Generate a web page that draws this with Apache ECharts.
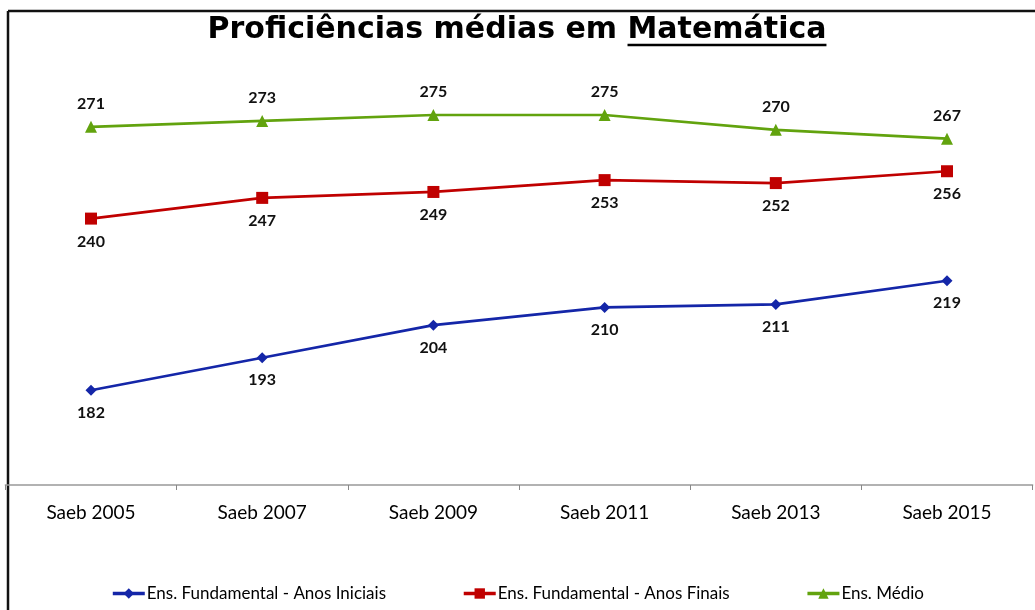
<!DOCTYPE html>
<html>
<head>
<meta charset="utf-8">
<script src="https://cdn.jsdelivr.net/npm/echarts@6/dist/echarts.min.js"></script>
<style>
  html, body { margin: 0; padding: 0; background: #fff; }
  #chart { width: 1035px; height: 610px; }
</style>
</head>
<body>
<div id="chart"></div>
<script>
// dados
const categorias = ['Saeb 2005', 'Saeb 2007', 'Saeb 2009', 'Saeb 2011', 'Saeb 2013', 'Saeb 2015']
const anosIniciais = [182, 193, 204, 210, 211, 219]
const anosFinais = [240, 247, 249, 253, 252, 256]
const ensMedio = [271, 273, 275, 275, 270, 267]

const tituloInicio = 'Proficiências médias em '
const tituloSublinhado = 'Matemática'

// medir o título para posicionar o sublinhado
const tituloFonte = 'bold 30px "DejaVu Sans"'
const ctx = document.createElement('canvas').getContext('2d')
ctx.font = tituloFonte
const wInicio = ctx.measureText(tituloInicio).width
const wTotal = ctx.measureText(tituloInicio + tituloSublinhado).width
const tituloX = 517
const x0 = tituloX - wTotal / 2

const chart = echarts.init(document.getElementById('chart'))

const labelFont = { fontFamily: 'Lato', fontWeight: 'bold', fontSize: 16, color: '#111' }

const serie = (name, data, color, symbol, size, pos) => ({
  name,
  type: 'line',
  data,
  symbol,
  symbolSize: size,
  color,
  lineStyle: { width: 2.7, color },
  itemStyle: { color },
  label: { show: true, position: pos, distance: 9, ...labelFont },
  emphasis: { disabled: true },
  animation: false
})

chart.setOption({
  animation: false,
  grid: { left: 5.4, right: 2.4, top: 41, bottom: 125 },
  xAxis: {
    type: 'category',
    data: categorias,
    boundaryGap: true,
    axisLine: { lineStyle: { color: '#999', width: 1.5 } },
    axisTick: { show: true, length: 5, lineStyle: { color: '#888' } },
    axisLabel: { margin: 18, fontFamily: 'Lato', fontSize: 19, color: '#000' }
  },
  yAxis: {
    type: 'value',
    min: 150,
    max: 300,
    show: false,
    splitLine: { show: false }
  },
  legend: {
    bottom: 3,
    left: 'center',
    itemWidth: 32,
    itemHeight: 13,
    itemGap: 76,
    lineStyle: { width: 3.5 },
    textStyle: { fontFamily: 'Lato', fontSize: 17, color: '#000', padding: [0, 0, 0, -3] },
    data: ['Ens. Fundamental - Anos Iniciais', 'Ens. Fundamental - Anos Finais', 'Ens. Médio']
  },
  graphic: [
    { type: 'line', shape: { x1: 8, y1: 11, x2: 8, y2: 610 }, style: { stroke: '#111', lineWidth: 2.5 } },
    { type: 'line', shape: { x1: 8, y1: 11, x2: 1035, y2: 11 }, style: { stroke: '#111', lineWidth: 2.5 } },
    {
      type: 'text', x: tituloX, y: 30,
      style: {
        text: tituloInicio + tituloSublinhado,
        font: tituloFonte,
        fill: '#000',
        align: 'center',
        verticalAlign: 'middle'
      }
    },
    { type: 'line', shape: { x1: x0 + wInicio, y1: 45, x2: x0 + wTotal, y2: 45 }, style: { stroke: '#000', lineWidth: 2.5 } }
  ],
  series: [
    serie('Ens. Fundamental - Anos Iniciais', anosIniciais, '#1426A8', 'diamond', 11, 'bottom'),
    serie('Ens. Fundamental - Anos Finais', anosFinais, '#C00000', 'rect', 12, 'bottom'),
    serie('Ens. Médio', ensMedio, '#62A30E', 'triangle', 12, 'top')
  ]
})
</script>
</body>
</html>
